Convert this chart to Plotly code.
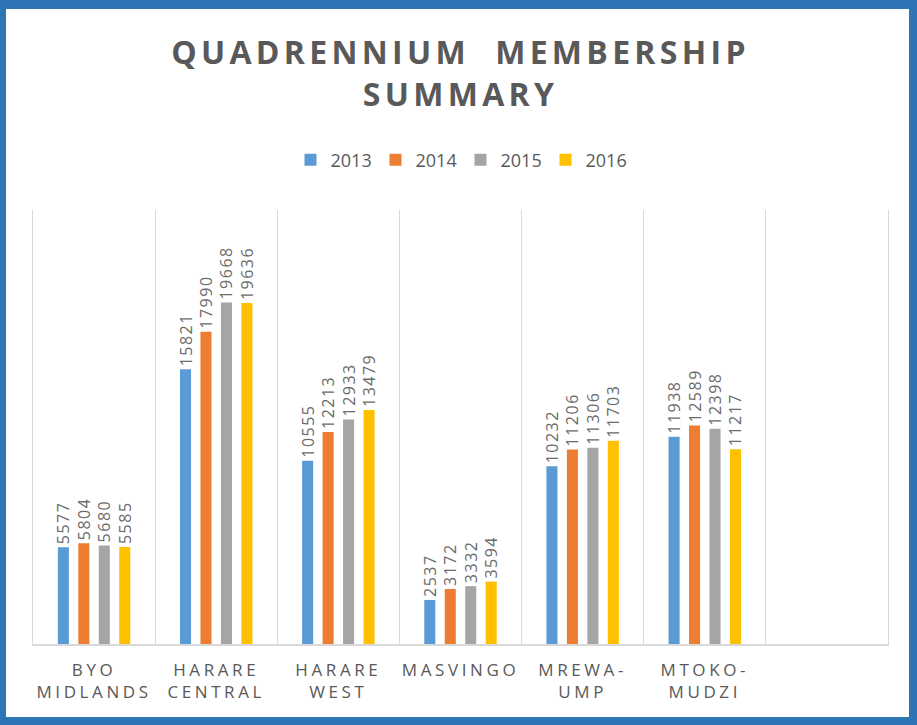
import plotly.graph_objects as go

categories = ["BYO MIDLANDS", "HARARE CENTRAL", "HARARE WEST", "MASVINGO", "MREWA-UMP", "MTOKO-MUDZI"]
tick_labels = ["BYO<br>MIDLANDS", "HARARE<br>CENTRAL", "HARARE<br>WEST", "MASVINGO", "MREWA-<br>UMP", "MTOKO-<br>MUDZI"]
years = ["2013", "2014", "2015", "2016"]
v2013 = [5577, 15821, 10555, 2537, 10232, 11938]
v2014 = [5804, 17990, 12213, 3172, 11206, 12589]
v2015 = [5680, 19668, 12933, 3332, 11306, 12398]
v2016 = [5585, 19636, 13479, 3594, 11703, 11217]
series = [v2013, v2014, v2015, v2016]
colors = ["#5B9BD5", "#ED7D31", "#A5A5A5", "#FFC000"]

W, H = 917, 725
ML, MR, MT, MB = 33, 29, 210, 81
PW, PH = W - ML - MR, H - MT - MB

def spaced(s, ls):
    parts = s.split("<br>")
    return "<br>".join(f'<span style="letter-spacing:{ls}px">{p}</span>' for p in parts)

fig = go.Figure()
for name, vals, col in zip(years, series, colors):
    fig.add_trace(go.Bar(
        x=categories, y=vals, name=name, marker=dict(color=col, line=dict(width=0)),
        text=[spaced(str(v), 1.5) for v in vals], textposition="outside", textangle=-90,
        constraintext="none",
        textfont=dict(family="Open Sans", size=16, color="#6b6b6b"),
        cliponaxis=False, hoverinfo="skip",
    ))

def px2paper_x(px):
    return (px - ML) / PW

def px2paper_y(py):
    return (H - MB - py) / PH

frame = [(0, 0, 917, 9), (0, 0, 6, 725), (909, 0, 917, 725), (0, 717, 917, 725)]
shapes = []
for x0, y0, x1, y1 in frame:
    shapes.append(dict(type="rect", xref="paper", yref="paper",
                       x0=px2paper_x(x0), x1=px2paper_x(x1),
                       y0=px2paper_y(y1), y1=px2paper_y(y0),
                       fillcolor="#2E75B6", line=dict(width=0), layer="above"))

fig.update_layout(
    width=W, height=H,
    margin=dict(l=ML, r=MR, t=MT, b=MB),
    paper_bgcolor="white", plot_bgcolor="white",
    title=dict(text=spaced("QUADRENNIUM  MEMBERSHIP<br>SUMMARY", 4.3),
               x=0.5, xref="paper", xanchor="center", y=1 - 64 / H, yanchor="top",
               font=dict(family="Open Sans", size=32, color="#595959", weight="bold")),
    barmode="group", bargap=0.33, bargroupgap=0.46,
    showlegend=True,
    legend=dict(orientation="h", x=0.5, xanchor="center", y=1 + 50 / PH, yanchor="middle",
                font=dict(family="Open Sans", size=18, color="#595959"),
                entrywidth=40, entrywidthmode="pixels", traceorder="normal"),
    shapes=shapes,
    font=dict(family="Open Sans", color="#595959"),
)
fig.update_xaxes(type="category", categoryorder="array", categoryarray=categories,
                 range=[-0.5, 6.5], tickmode="array", tickvals=categories,
                 ticktext=[spaced(t, 3.6) for t in tick_labels], tickson="boundaries",
                 ticks="", showgrid=True, gridcolor="#D9D9D9", gridwidth=1,
                 showline=True, linecolor="#D9D9D9", linewidth=1.5,
                 tickfont=dict(family="Open Sans", size=17, color="#595959"),
                 ticklabelstandoff=10, tickangle=0)
fig.update_yaxes(range=[0, 25000], showticklabels=False, showgrid=False, zeroline=False,
                 showline=True, mirror=True, linecolor="#D9D9D9", linewidth=1, ticks="")

fig.write_html("out.html", config={"displayModeBar": False},
               post_script="document.body.style.margin='0';document.body.style.overflow='hidden';")
